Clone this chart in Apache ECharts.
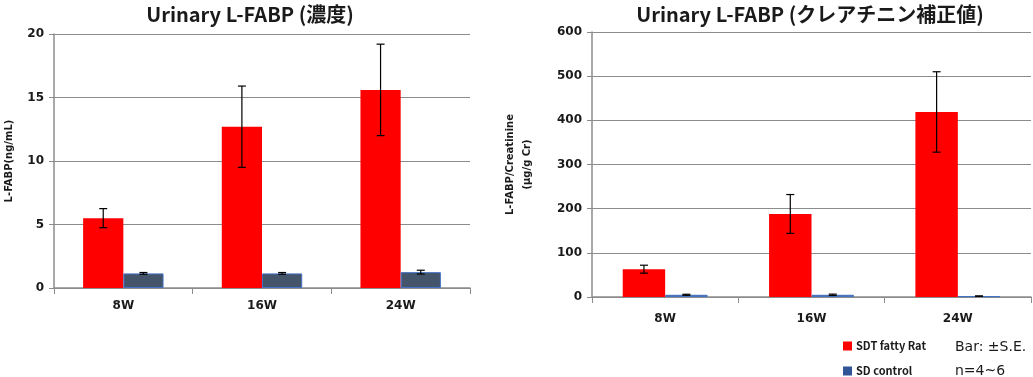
<!DOCTYPE html>
<html>
<head>
<meta charset="utf-8">
<script src="https://cdn.jsdelivr.net/npm/echarts@6/dist/echarts.min.js"></script>
<style>
  html, body { margin: 0; padding: 0; background: #fff; }
  #chart { width: 1033px; height: 377px; }
</style>
</head>
<body>
<div id="chart"></div>
<script>
var weeks = ['8W', '16W', '24W'];
// 濃度 (ng/mL)
var concSdt = [5.5, 12.7, 15.6];
var concSdtErr = [0.75, 3.2, 3.6];
var concSd = [1.15, 1.15, 1.25];
var concSdErr = [0.07, 0.07, 0.15];
// クレアチニン補正値 (μg/g Cr)
var creSdt = [63, 188, 419];
var creSdtErr = [9, 44, 91];
var creSd = [5, 5, 2];
var creSdErr = [1.2, 1.5, 0.5];

var font = 'DejaVu Sans';
var red = '#ff0000';
var slate = '#44546a';
var blue = '#2f5597';

function errBar(name, xi, vals, errs, side) {
    return {
        name: name,
        type: 'custom',
        xAxisIndex: xi,
        yAxisIndex: xi,
        silent: true,
        z: 5,
        data: vals.map(function (v, i) { return [i, v, errs[i]]; }),
        renderItem: function (params, api) {
            var i = api.value(0);
            var v = api.value(1);
            var e = api.value(2);
            var bw = api.size([1, 0])[0];
            var off = side * bw * 0.145;
            var top = api.coord([i, v + e]);
            var bot = api.coord([i, v - e]);
            var x = top[0] + off;
            var cap = 4;
            var st = { stroke: '#000', lineWidth: 1.2 };
            return {
                type: 'group',
                children: [
                    { type: 'line', shape: { x1: x, y1: top[1], x2: x, y2: bot[1] }, style: st },
                    { type: 'line', shape: { x1: x - cap, y1: top[1], x2: x + cap, y2: top[1] }, style: st },
                    { type: 'line', shape: { x1: x - cap, y1: bot[1], x2: x + cap, y2: bot[1] }, style: st }
                ]
            };
        }
    };
}

function xAxisOf(gi, margin) {
    return {
        type: 'category',
        gridIndex: gi,
        data: weeks,
        axisLine: { lineStyle: { color: '#8c8c8c', width: 1.5 } },
        axisTick: { show: true, length: 6, lineStyle: { color: '#8c8c8c' } },
        axisLabel: { color: '#1a1a1a', fontFamily: font, fontWeight: 'bold', fontSize: 12, margin: margin }
    };
}

function yAxisOf(gi, max, interval, name, gap) {
    return {
        type: 'value',
        gridIndex: gi,
        min: 0,
        max: max,
        interval: interval,
        name: name,
        nameLocation: 'middle',
        nameGap: gap,
        nameRotate: 90,
        nameTextStyle: { color: '#1a1a1a', fontFamily: font, fontWeight: 'bold', fontSize: 10, lineHeight: 17 },
        axisLine: { show: true, lineStyle: { color: '#8c8c8c', width: 1.5 } },
        axisTick: { show: true, length: 5, lineStyle: { color: '#8c8c8c' } },
        axisLabel: { color: '#1a1a1a', fontFamily: font, fontWeight: 'bold', fontSize: 12, margin: 10 },
        splitLine: { lineStyle: { color: '#8c8c8c', width: 1.2 } }
    };
}

function legendOf(name, color, top) {
    return {
        left: 843,
        top: top,
        padding: 0,
        itemWidth: 9,
        itemHeight: 9,
        icon: 'rect',
        selectedMode: false,
        textStyle: { fontFamily: 'Noto Sans CJK JP', fontWeight: 'bold', fontSize: 11, lineHeight: 12, color: '#1a1a1a', padding: [0, 0, 0, -1] },
        data: [{ name: name, itemStyle: { color: color, borderWidth: 0 } }]
    };
}

var titleStyle = { fontFamily: 'Noto Sans CJK JP', fontWeight: 'bold', fontSize: 20, color: '#1a1a1a' };

var chart = echarts.init(document.getElementById('chart'));
chart.setOption({
    animation: false,
    title: [{
        text: 'Urinary L-FABP (濃度)',
        left: 245,
        top: -1,
        textAlign: 'center',
        textStyle: titleStyle
    }, {
        text: 'Urinary L-FABP (クレアチニン補正値)',
        left: 805,
        top: -1,
        textAlign: 'center',
        textStyle: titleStyle
    }],
    grid: [
        { left: 49, top: 34, width: 421, height: 254 },
        { left: 592, top: 32, width: 439, height: 265 }
    ],
    legend: [
        legendOf('SDT fatty Rat', red, 340),
        legendOf('SD control', blue, 365)
    ],
    graphic: [
        { type: 'text', x: 955, y: 347, style: { text: 'Bar: ±S.E.', fontFamily: font, fontSize: 14, fill: '#1a1a1a', verticalAlign: 'middle' } },
        { type: 'text', x: 955, y: 371, style: { text: 'n=4~6', fontFamily: font, fontSize: 14, fill: '#1a1a1a', verticalAlign: 'middle' } }
    ],
    xAxis: [xAxisOf(0, 12), xAxisOf(1, 16)],
    yAxis: [
        yAxisOf(0, 20, 5, 'L-FABP(ng/mL)', 36),
        yAxisOf(1, 600, 100, 'L-FABP/Creatinine\n(μg/g Cr)', 56)
    ],
    series: [
        { name: 'SDT fatty Rat', type: 'bar', xAxisIndex: 0, yAxisIndex: 0, data: concSdt,
          barWidth: '29%', barGap: '0%', itemStyle: { color: red } },
        { name: 'SD control', type: 'bar', xAxisIndex: 0, yAxisIndex: 0, data: concSd,
          barWidth: '29%', barGap: '0%', itemStyle: { color: slate, borderColor: '#4472c4', borderWidth: 1 } },
        { name: 'SDT fatty Rat', type: 'bar', xAxisIndex: 1, yAxisIndex: 1, data: creSdt,
          barWidth: '29%', barGap: '0%', itemStyle: { color: red } },
        { name: 'SD control', type: 'bar', xAxisIndex: 1, yAxisIndex: 1, data: creSd,
          barWidth: '29%', barGap: '0%', itemStyle: { color: slate, borderColor: '#4472c4', borderWidth: 1 } },
        errBar('errConcSdt', 0, concSdt, concSdtErr, -1),
        errBar('errConcSd', 0, concSd, concSdErr, 1),
        errBar('errCreSdt', 1, creSdt, creSdtErr, -1),
        errBar('errCreSd', 1, creSd, creSdErr, 1)
    ]
});
</script>
</body>
</html>
